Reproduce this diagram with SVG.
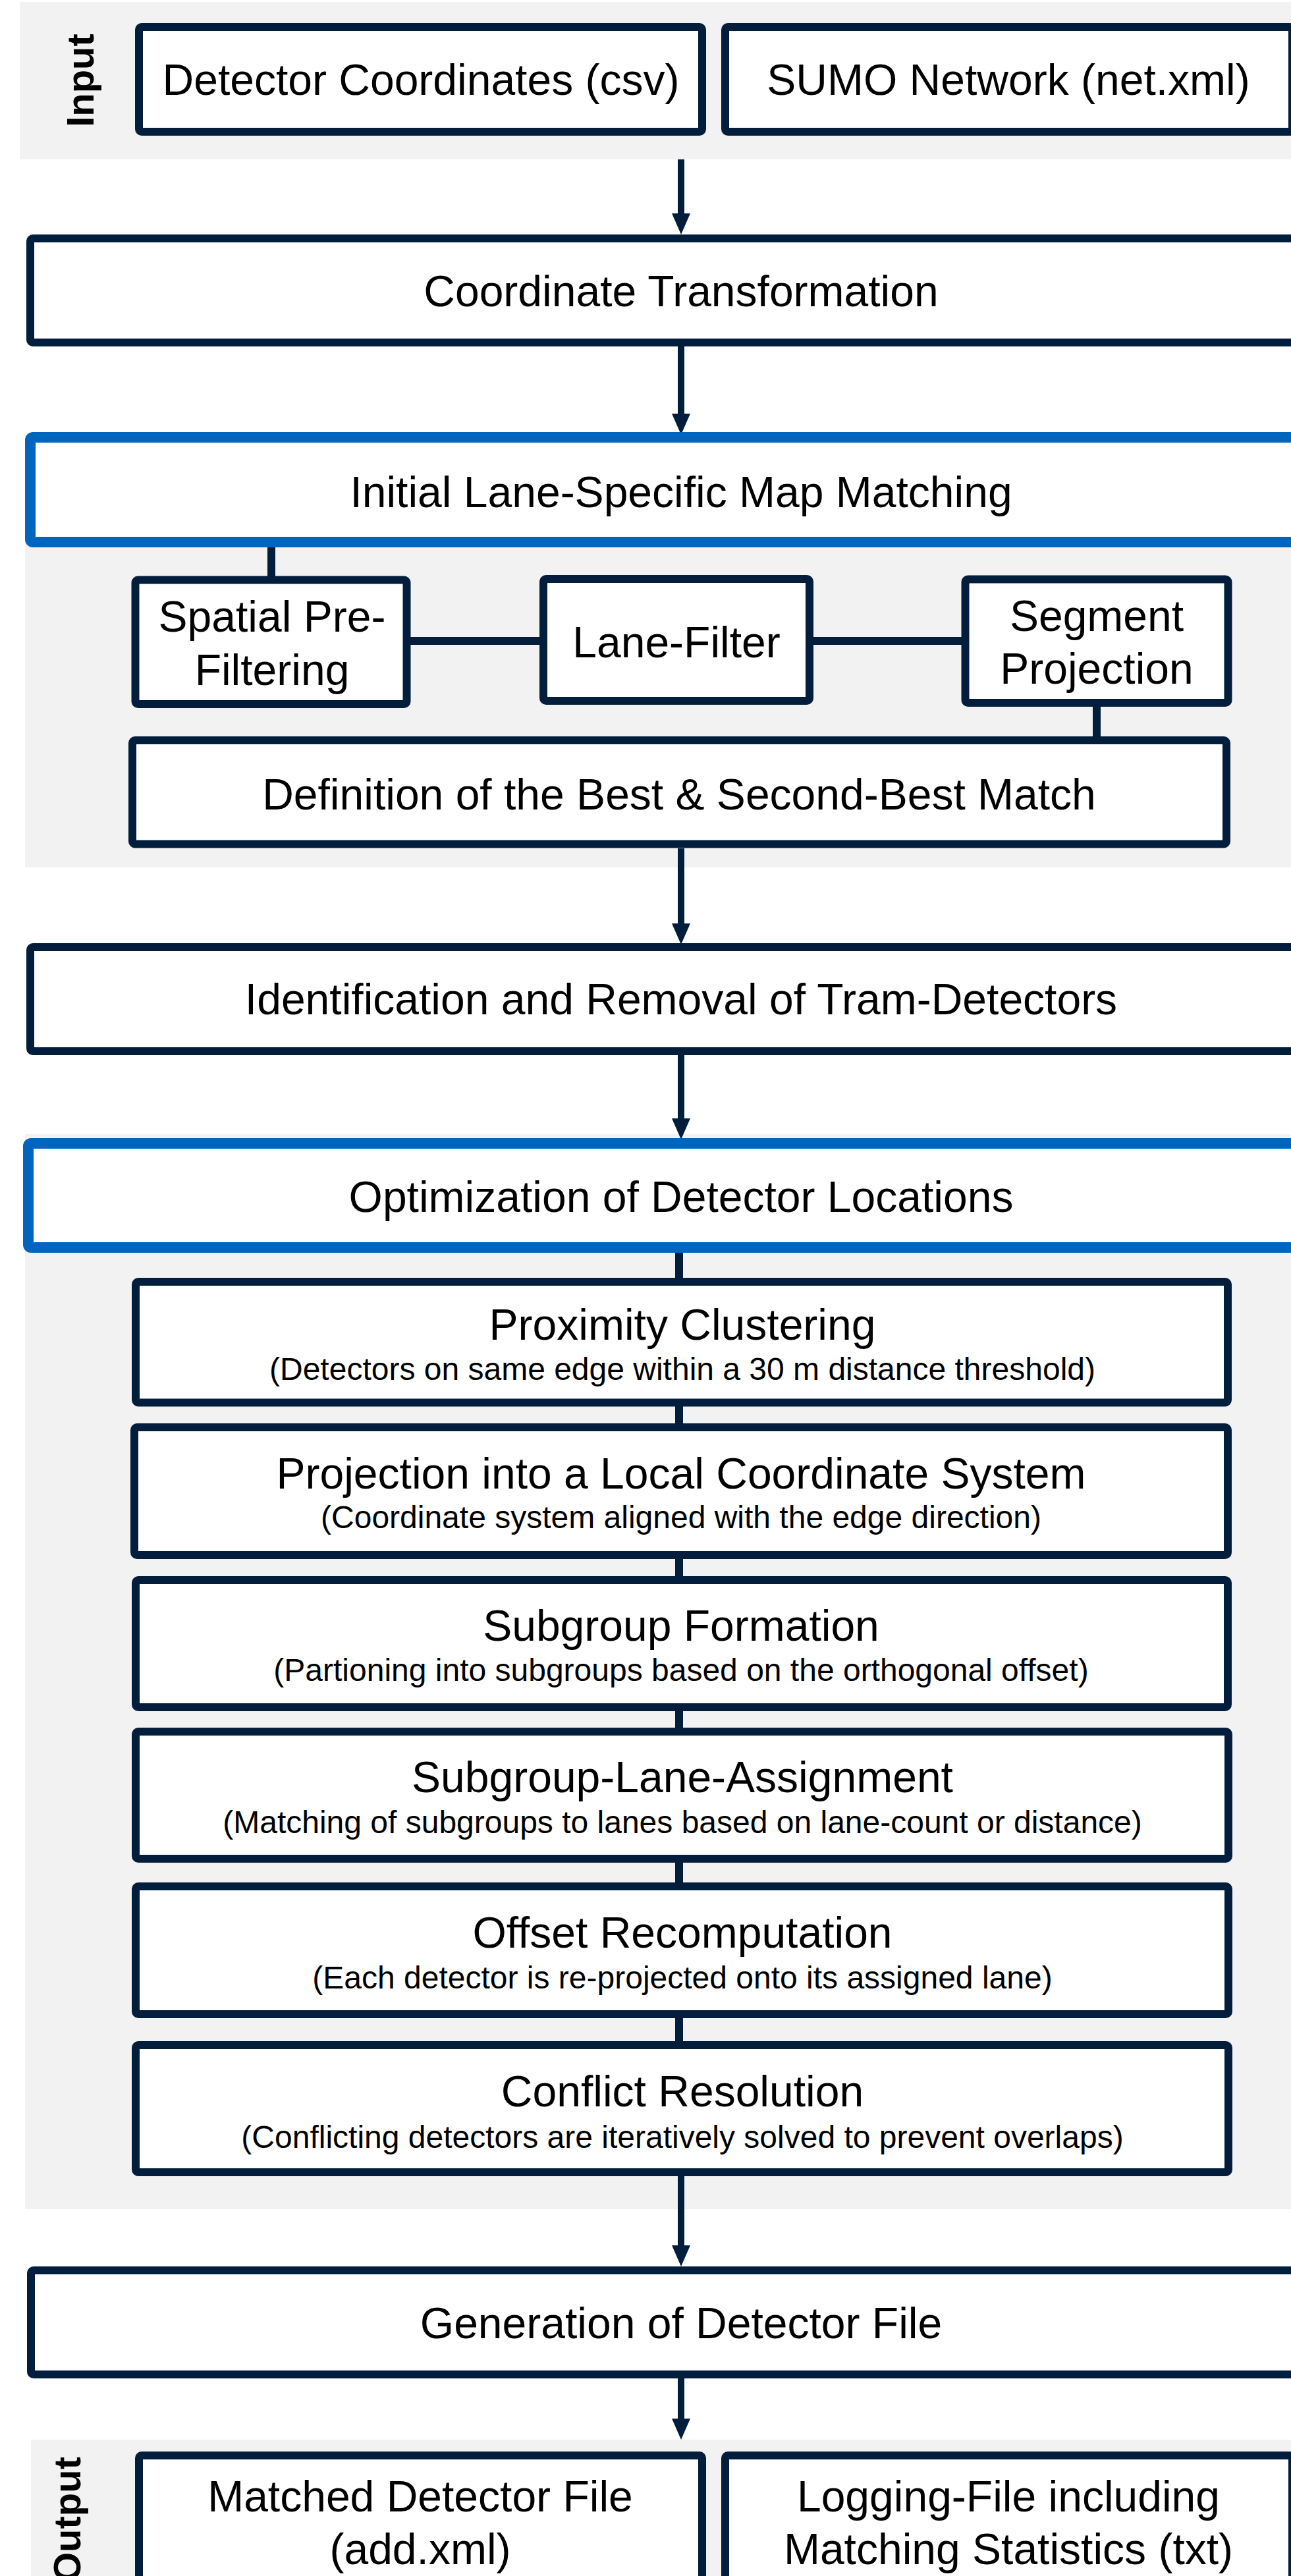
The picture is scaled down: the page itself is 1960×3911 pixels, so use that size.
<svg xmlns="http://www.w3.org/2000/svg" width="1960" height="3911" viewBox="0 0 1960 3911">
<style>
.bg{fill:#f2f2f2}
.box{fill:#fff;stroke:#021e3c;stroke-width:12}
.blue{fill:#fff;stroke:#0065bd;stroke-width:16}
.t{font-family:"Liberation Sans",Arial,sans-serif;font-size:66px;fill:#000;text-anchor:middle}
.s{font-family:"Liberation Sans",Arial,sans-serif;font-size:48px;fill:#000;text-anchor:middle}
.lab{font-family:"Liberation Sans",Arial,sans-serif;font-size:58px;font-weight:bold;fill:#000}
.c{stroke:#021e3c;stroke-width:12;fill:none}
.a{stroke:#021e3c;stroke-width:10;fill:none;marker-end:url(#arr)}
</style>
<defs>
<marker id="arr" markerUnits="userSpaceOnUse" markerWidth="32" markerHeight="28" viewBox="0 0 32 28" refX="12" refY="14" orient="auto">
<path d="M0,0 L32,14 L0,28 Z" fill="#021e3c"/>
</marker>
</defs>
<rect width="1960" height="3911" fill="#fff"/>
<g id="bands">
<rect class="bg" x="30" y="3" width="1930" height="239"/>
<rect class="bg" x="38" y="700" width="1922" height="617"/>
<rect class="bg" x="38" y="1722" width="1922" height="1632"/>
<rect class="bg" x="47" y="3704" width="1913" height="207"/>
<text class="lab" transform="translate(142,122) rotate(-90)" text-anchor="middle">Input</text>
<text class="lab" transform="translate(122,3730) rotate(-90)" text-anchor="end">Output</text>
</g>
<g id="connectors">
<line class="a" x1="1034" y1="242" x2="1034" y2="336"/>
<line class="a" x1="1034" y1="526" x2="1034" y2="640"/>
<line class="a" x1="1034" y1="1288" x2="1034" y2="1414"/>
<line class="a" x1="1034" y1="1602" x2="1034" y2="1710"/>
<line class="a" x1="1034" y1="3304" x2="1034" y2="3421"/>
<line class="a" x1="1034" y1="3611" x2="1034" y2="3684"/>
<line class="c" x1="412" y1="828" x2="412" y2="878"/>
<line class="c" x1="620" y1="973" x2="822" y2="973"/>
<line class="c" x1="1232" y1="973" x2="1462" y2="973"/>
<line class="c" x1="1665" y1="1070" x2="1665" y2="1121"/>
<line class="c" x1="1031" y1="1898" x2="1031" y2="1943"/>
<line class="c" x1="1031" y1="2132" x2="1031" y2="2164"/>
<line class="c" x1="1031" y1="2364" x2="1031" y2="2396"/>
<line class="c" x1="1031" y1="2595" x2="1031" y2="2626"/>
<line class="c" x1="1031" y1="2825" x2="1031" y2="2861"/>
<line class="c" x1="1031" y1="3061" x2="1031" y2="3102"/>
</g>
<g id="in1"><rect class="box" x="211" y="41" width="855" height="159" rx="4"/><text class="t" x="639" y="144">Detector Coordinates (csv)</text></g>
<g id="in2"><rect class="box" x="1101" y="41" width="861" height="159" rx="4"/><text class="t" x="1531" y="144">SUMO Network (net.xml)</text></g>
<g id="coord"><rect class="box" x="46" y="362" width="2000" height="158" rx="4"/><text class="t" x="1034" y="465">Coordinate Transformation</text></g>
<g id="initial"><rect class="blue" x="46" y="664" width="2000" height="159" rx="4"/><text class="t" x="1034" y="770">Initial Lane-Specific Map Matching</text></g>
<g id="spatial"><rect class="box" x="205.5" y="880.5" width="412" height="188.5" rx="4"/><text class="t" x="413" y="959">Spatial Pre-</text><text class="t" x="413" y="1040">Filtering</text></g>
<g id="lanefilter"><rect class="box" x="825" y="879" width="404" height="185" rx="4"/><text class="t" x="1027" y="998">Lane-Filter</text></g>
<g id="segment"><rect class="box" x="1465.5" y="879.5" width="399" height="187.5" rx="4"/><text class="t" x="1665" y="958">Segment</text><text class="t" x="1665" y="1038">Projection</text></g>
<g id="definition"><rect class="box" x="201" y="1124" width="1661" height="157.5" rx="4"/><text class="t" x="1031" y="1229">Definition of the Best &amp; Second-Best Match</text></g>
<g id="ident"><rect class="box" x="46" y="1438" width="2000" height="158" rx="4"/><text class="t" x="1034" y="1540">Identification and Removal of Tram-Detectors</text></g>
<g id="optim"><rect class="blue" x="43" y="1736" width="2000" height="158" rx="4"/><text class="t" x="1034" y="1840">Optimization of Detector Locations</text></g>
<g id="prox"><rect class="box" x="206" y="1946" width="1658" height="183.5" rx="4"/><text class="t" x="1036" y="2034">Proximity Clustering</text><text class="s" x="1036" y="2095">(Detectors on same edge within a 30 m distance threshold)</text></g>
<g id="proj"><rect class="box" x="204" y="2167" width="1660" height="194" rx="4"/><text class="t" x="1034" y="2260">Projection into a Local Coordinate System</text><text class="s" x="1034" y="2320">(Coordinate system aligned with the edge direction)</text></g>
<g id="subform"><rect class="box" x="206" y="2399" width="1658" height="193" rx="4"/><text class="t" x="1034" y="2491">Subgroup Formation</text><text class="s" x="1034" y="2552">(Partioning into subgroups based on the orthogonal offset)</text></g>
<g id="sublane"><rect class="box" x="206" y="2629" width="1659" height="193" rx="4"/><text class="t" x="1036" y="2721">Subgroup-Lane-Assignment</text><text class="s" x="1036" y="2783">(Matching of subgroups to lanes based on lane-count or distance)</text></g>
<g id="offset"><rect class="box" x="206" y="2864" width="1659" height="194" rx="4"/><text class="t" x="1036" y="2957">Offset Recomputation</text><text class="s" x="1036" y="3019">(Each detector is re-projected onto its assigned lane)</text></g>
<g id="conflict"><rect class="box" x="206" y="3105" width="1659" height="193" rx="4"/><text class="t" x="1036" y="3198">Conflict Resolution</text><text class="s" x="1036" y="3261">(Conflicting detectors are iteratively solved to prevent overlaps)</text></g>
<g id="gen"><rect class="box" x="47" y="3447" width="2000" height="158" rx="4"/><text class="t" x="1034" y="3550">Generation of Detector File</text></g>
<g id="out1"><rect class="box" x="211" y="3728" width="855" height="300" rx="4"/><text class="t" x="638" y="3813">Matched Detector File</text><text class="t" x="638" y="3893">(add.xml)</text></g>
<g id="out2"><rect class="box" x="1101" y="3728" width="861" height="300" rx="4"/><text class="t" x="1531" y="3813">Logging-File including</text><text class="t" x="1531" y="3893">Matching Statistics (txt)</text></g>
</svg>
